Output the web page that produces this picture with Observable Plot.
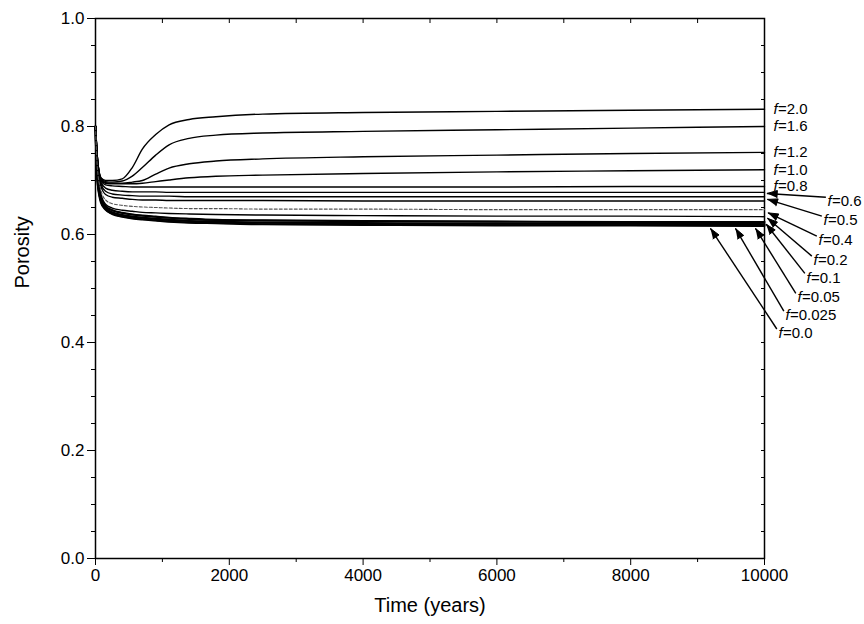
<!DOCTYPE html>
<html><head><meta charset="utf-8">
<script src="https://cdn.jsdelivr.net/npm/d3@7"></script>
<script src="https://cdn.jsdelivr.net/npm/@observablehq/plot@0.6"></script>
<style>body{margin:0;background:#fff;}</style>
</head><body><div id="chart"></div>
<script>
// Time (years)
const time = [0, 30, 80, 150, 250, 400, 550, 700, 900, 1100, 1400, 1800, 2500, 4000, 6000, 8000, 10000];
// Porosity for each f
const f2_0   = [0.80,0.74,0.705,0.700,0.700,0.703,0.724,0.758,0.785,0.803,0.813,0.818,0.823,0.826,0.828,0.830,0.832];
const f1_6   = [0.80,0.74,0.705,0.698,0.697,0.699,0.708,0.724,0.747,0.766,0.778,0.784,0.788,0.791,0.794,0.797,0.800];
const f1_2   = [0.80,0.74,0.703,0.696,0.695,0.695,0.697,0.700,0.712,0.723,0.731,0.736,0.740,0.744,0.747,0.750,0.752];
const f1_0   = [0.80,0.74,0.702,0.695,0.694,0.694,0.694,0.695,0.698,0.701,0.705,0.708,0.710,0.713,0.716,0.718,0.720];
const f0_8   = [0.80,0.74,0.700,0.692,0.690,0.689,0.688,0.688,0.688,0.688,0.688,0.688,0.688,0.688,0.688,0.689,0.689];
const f0_6   = [0.80,0.73,0.697,0.686,0.682,0.680,0.679,0.679,0.679,0.678,0.678,0.678,0.678,0.678,0.678,0.678,0.678];
const f0_5   = [0.80,0.73,0.694,0.680,0.675,0.673,0.672,0.671,0.671,0.671,0.670,0.670,0.670,0.670,0.670,0.670,0.670];
const f0_4   = [0.80,0.72,0.690,0.674,0.669,0.667,0.665,0.664,0.664,0.663,0.663,0.663,0.663,0.662,0.662,0.662,0.662];
const f0_2   = [0.80,0.72,0.683,0.664,0.657,0.654,0.652,0.651,0.650,0.649,0.648,0.648,0.647,0.647,0.646,0.646,0.646];
const f0_1   = [0.80,0.71,0.675,0.656,0.649,0.645,0.643,0.641,0.640,0.639,0.638,0.637,0.636,0.635,0.634,0.634,0.633];
const f0_05  = [0.80,0.71,0.668,0.652,0.645,0.640,0.637,0.635,0.633,0.631,0.629,0.627,0.626,0.625,0.624,0.623,0.623];
const f0_025 = [0.80,0.70,0.664,0.649,0.641,0.636,0.633,0.631,0.629,0.627,0.625,0.624,0.622,0.621,0.620,0.620,0.619];
const f0_0   = [0.80,0.70,0.660,0.646,0.638,0.633,0.630,0.628,0.626,0.624,0.622,0.621,0.619,0.618,0.617,0.617,0.616];

const fLabels = ["2.0","1.6","1.2","1.0","0.8","0.6","0.5","0.4","0.2","0.1","0.05","0.025","0.0"];
const seriesValues = [f2_0,f1_6,f1_2,f1_0,f0_8,f0_6,f0_5,f0_4,f0_2,f0_1,f0_05,f0_025,f0_0];

const xMajorTicks = [0, 2000, 4000, 6000, 8000, 10000];
const xMinorTicks = [1000, 3000, 5000, 7000, 9000];
const yMajorTicks = [0, 0.2, 0.4, 0.6, 0.8, 1.0];
const yMinorTicks = [0.05,0.1,0.15,0.25,0.3,0.35,0.45,0.5,0.55,0.65,0.7,0.75,0.85,0.9,0.95];

// build table
const rows = fLabels.flatMap((f, i) => time.map((t, j) => ({f, t, p: seriesValues[i][j]})));
const solidRows = rows.filter(d => d.f !== "0.2");
const dashRows = rows.filter(d => d.f === "0.2");
const heavyRows = rows.filter(d => ["0.05","0.025","0.0"].includes(d.f));

// layout
const W = 864, H = 624, mL = 95, mR = 100, mT = 18, mB = 66;
const kx = (W - mL - mR) / 10000, ky = (H - mT - mB) / 1;

// direct labels (no arrow)
const direct = fLabels.slice(0, 5).map((f, i) => ({f, t: 10000, p: seriesValues[i][time.length - 1]}));
// arrowed labels: label anchor and arrow tip (annotation layout)
const arrowed = [
  {f: "0.6",   lt: 10942, lp: 0.661, tt: 10040, tp: 0.676},
  {f: "0.5",   lt: 10882, lp: 0.626, tt: 10045, tp: 0.665},
  {f: "0.4",   lt: 10807, lp: 0.589, tt: 10055, tp: 0.640},
  {f: "0.2",   lt: 10732, lp: 0.552, tt: 10045, tp: 0.630},
  {f: "0.1",   lt: 10628, lp: 0.520, tt: 10025, tp: 0.619},
  {f: "0.05",  lt: 10493, lp: 0.483, tt: 9866,  tp: 0.611},
  {f: "0.025", lt: 10314, lp: 0.450, tt: 9567,  tp: 0.611},
  {f: "0.0",   lt: 10209, lp: 0.417, tt: 9193,  tp: 0.611}
].map(d => ({...d, st: d.lt - 25, sp: d.lp + 0.008}));

// filled arrowheads as closed triangles (computed in pixel space, mapped back to data)
const headLen = 10, headHalf = 3.6;
const heads = arrowed.flatMap(d => {
  const dxp = (d.tt - d.st) * kx, dyp = -(d.tp - d.sp) * ky;
  const L = Math.hypot(dxp, dyp), ux = dxp / L, uy = dyp / L;
  const bx = -headLen * ux, by = -headLen * uy;
  const toData = (px, py) => ({t: d.tt + px / kx, p: d.tp - py / ky});
  return [
    {id: d.f, ...toData(0, 0)},
    {id: d.f, ...toData(bx - headHalf * uy, by + headHalf * ux)},
    {id: d.f, ...toData(bx + headHalf * uy, by - headHalf * ux)}
  ];
});

const fs = 17;
const chart = Plot.plot({
  width: W, height: H,
  marginLeft: mL, marginRight: mR, marginTop: mT, marginBottom: mB,
  style: {fontFamily: "'Liberation Sans', Arial, sans-serif", fontSize: fs + "px", background: "#fff", color: "#000"},
  x: {domain: [0, 10000]},
  y: {domain: [0, 1]},
  marks: [
    Plot.frame({stroke: "#000", strokeWidth: 1.5}),
    Plot.axisX({ticks: xMajorTicks, tickSize: 7, tickPadding: 3, fontSize: fs, label: null, tickFormat: d => String(d)}),
    Plot.axisX({ticks: xMinorTicks, tickSize: 4, tickFormat: () => "", label: null}),
    Plot.axisX({anchor: "top", ticks: [...xMajorTicks, ...xMinorTicks], tickSize: -4, tickFormat: () => "", label: null}),
    Plot.axisY({ticks: yMajorTicks, tickSize: 8, tickPadding: 3, fontSize: fs, label: null, tickFormat: d3.format(".1f")}),
    Plot.axisY({ticks: yMinorTicks, tickSize: 4, tickFormat: () => "", label: null}),
    Plot.axisY({anchor: "right", ticks: [...yMajorTicks, ...yMinorTicks], tickSize: -4, tickFormat: () => "", label: null}),
    Plot.text(["Time (years)"], {frameAnchor: "bottom", dy: 53, fontSize: 20, fill: "#000"}),
    Plot.text(["Porosity"], {frameAnchor: "left", dx: -73, rotate: -90, fontSize: 20, fill: "#000"}),
    Plot.line(solidRows, {x: "t", y: "p", z: "f", stroke: "#000", strokeWidth: 1.4, curve: "monotone-x"}),
    Plot.line(heavyRows, {x: "t", y: "p", z: "f", stroke: "#000", strokeWidth: 2.2, curve: "monotone-x"}),
    Plot.line(dashRows, {x: "t", y: "p", z: "f", stroke: "#555", strokeWidth: 1.1, strokeDasharray: "3,2", curve: "monotone-x"}),
    // direct labels
    Plot.text(direct, {x: "t", y: "p", text: () => "f", dx: 9, textAnchor: "start", fontStyle: "italic", fontSize: 15, fill: "#000"}),
    Plot.text(direct, {x: "t", y: "p", text: d => "=" + d.f, dx: 13.5, textAnchor: "start", fontSize: 15, fill: "#000"}),
    // arrows
    Plot.link(arrowed, {x1: "st", y1: "sp", x2: "tt", y2: "tp", stroke: "#000", strokeWidth: 1.4}),
    Plot.line(heads, {x: "t", y: "p", z: "id", fill: "#000", stroke: "#000", strokeWidth: 1, strokeLinejoin: "miter"}),
    Plot.text(arrowed, {x: "lt", y: "lp", text: () => "f", textAnchor: "start", fontStyle: "italic", fontSize: 15, fill: "#000"}),
    Plot.text(arrowed, {x: "lt", y: "lp", text: d => "=" + d.f, dx: 4.5, textAnchor: "start", fontSize: 15, fill: "#000"})
  ]
});
document.getElementById("chart").appendChild(chart);
</script>
</body></html>
